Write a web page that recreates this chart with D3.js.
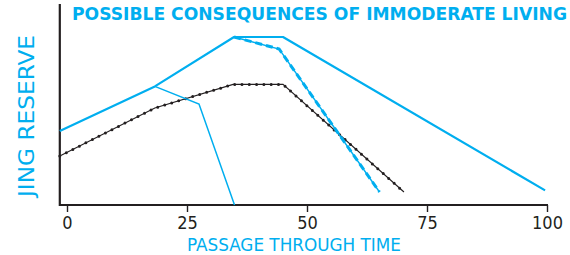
<!DOCTYPE html>
<html><head><meta charset="utf-8">
<script src="https://cdn.jsdelivr.net/npm/d3@7"></script>
<style>html,body{margin:0;padding:0;background:#fff;}svg{display:block;}</style>
</head><body>
<script>
// Data (x: passage through time, y: jing reserve, arbitrary units)
const xTicks = [0, 25, 50, 75, 100];
const moderateLine = [[-1.5,37],[18.3,59.3],[34.8,84],[45,84],[99.6,7.3]];
const earlyDecline = [[18.3,59.3],[27.5,50.5],[34.9,0]];
const midDecline = [[34.8,84],[44.2,78],[65.1,6.5]];
const immoderateLine = [[-1.5,24.5],[18.3,48.5],[34.6,60.3],[45,60.3],[70.2,6.5]];
const titleText = "POSSIBLE CONSEQUENCES OF IMMODERATE LIVING";
const xLabel = "PASSAGE THROUGH TIME";
const yLabel = "JING RESERVE";

const W = 570, H = 255;
const cyan = "#00aeef", dark = "#231f20";
const x = d3.scaleLinear().domain([0,100]).range([67,547]);
const y = d3.scaleLinear().domain([0,100]).range([205,5]);
const svg = d3.select("body").append("svg").attr("width",W).attr("height",H);
const line = d3.line().x(d=>x(d[0])).y(d=>y(d[1]));

// axes
const xAxis = d3.axisBottom(x).tickValues(xTicks).tickSize(7).tickSizeOuter(0).tickPadding(4);
const gx = svg.append("g").attr("transform",`translate(0,${y(0)})`).call(xAxis);
gx.select(".domain").remove();
gx.append("line").attr("x1",x(-1.5)).attr("x2",x(100)+1).attr("y1",0).attr("y2",0)
  .attr("stroke",dark).attr("stroke-width",2.2);
gx.selectAll(".tick line").attr("stroke",dark).attr("stroke-width",1.4);
gx.selectAll(".tick text").attr("fill",dark)
  .style("font-family","'DejaVu Sans Condensed','DejaVu Sans',sans-serif").style("font-size","18px");
svg.append("line").attr("x1",x(-1.5)).attr("x2",x(-1.5)).attr("y1",4).attr("y2",y(0)+1)
  .attr("stroke",dark).attr("stroke-width",2.2);

// series
svg.append("path").datum(immoderateLine).attr("d",line).attr("fill","none")
  .attr("stroke",dark).attr("stroke-width",1.1);
svg.append("path").datum(immoderateLine).attr("d",line).attr("fill","none")
  .attr("stroke",dark).attr("stroke-width",3).attr("stroke-linecap","round").attr("stroke-dasharray","0 7.3");
svg.append("path").datum(earlyDecline).attr("d",line).attr("fill","none")
  .attr("stroke",cyan).attr("stroke-width",1.5);
svg.append("path").datum(midDecline).attr("d",line).attr("fill","none")
  .attr("stroke",cyan).attr("stroke-width",1.4);
svg.append("path").datum(midDecline).attr("d",line).attr("fill","none")
  .attr("stroke",cyan).attr("stroke-width",3).attr("stroke-dasharray","7 4");
svg.append("path").datum(moderateLine).attr("d",line).attr("fill","none")
  .attr("stroke",cyan).attr("stroke-width",2.2).attr("stroke-linejoin","round");

// texts
svg.append("text").attr("x",72).attr("y",20).text(titleText)
  .attr("fill",cyan).attr("font-weight","bold")
  .style("font-family","'DejaVu Sans Condensed','DejaVu Sans',sans-serif").style("font-size","17px")
  .attr("textLength",495).attr("lengthAdjust","spacingAndGlyphs");
svg.append("text").attr("x",187).attr("y",251).text(xLabel)
  .attr("fill",cyan)
  .style("font-family","'DejaVu Sans Condensed','DejaVu Sans',sans-serif").style("font-size","17px")
  .attr("textLength",214).attr("lengthAdjust","spacingAndGlyphs");
svg.append("text").attr("transform","translate(34,197) rotate(-90)").text(yLabel)
  .attr("fill",cyan)
  .style("font-family","'DejaVu Sans Condensed','DejaVu Sans',sans-serif").style("font-size","22px")
  .attr("textLength",162).attr("lengthAdjust","spacingAndGlyphs");
</script>
</body></html>
